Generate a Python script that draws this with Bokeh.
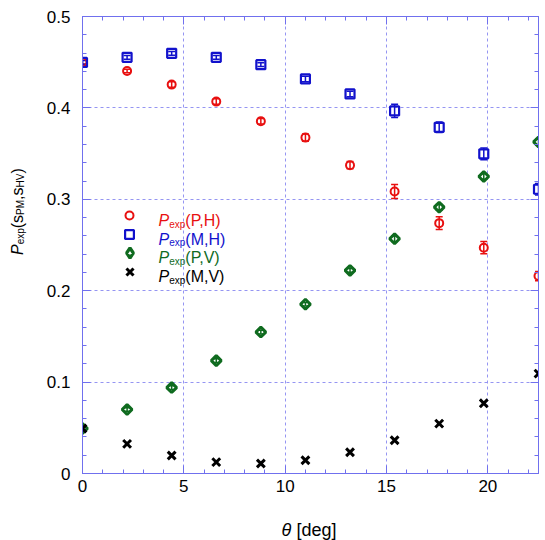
import math
from bokeh.plotting import figure
from bokeh.layouts import column, row
from bokeh.models import (ColumnDataSource, Whisker, TeeHead, LinearAxis, SingleIntervalTicker,
                          CustomJSTickFormatter, Label, Legend, LegendItem, Range1d)
from bokeh.core.properties import value
from bokeh.embed import file_html
from bokeh.resources import INLINE

# ---------------- data ----------------
theta = [0.0, 2.2, 4.4, 6.6, 8.8, 11.0, 13.2, 15.4, 17.6, 19.8, 22.5]
p_ph = [0.4500, 0.4404, 0.4255, 0.4069, 0.3854, 0.3675, 0.3373, 0.3085, 0.2739, 0.2470, 0.2160]
p_ph_err = [0.002, 0.002, 0.003, 0.003, 0.003, 0.004, 0.004, 0.0077, 0.0070, 0.0067, 0.0050]
p_mh = [0.4498, 0.4553, 0.4597, 0.4553, 0.4473, 0.4317, 0.4153, 0.3967, 0.3788, 0.3497, 0.3110]
p_mh_err = [0.002, 0.002, 0.002, 0.002, 0.002, 0.003, 0.003, 0.0073, 0.0057, 0.0064, 0.0064]
p_pv = [0.0492, 0.0700, 0.0940, 0.1235, 0.1547, 0.1852, 0.2222, 0.2568, 0.2914, 0.3249, 0.3628]
p_pv_err = [0.002, 0.002, 0.002, 0.002, 0.002, 0.002, 0.002, 0.003, 0.003, 0.003, 0.003]
p_mv = [0.0492, 0.0324, 0.0197, 0.0124, 0.0109, 0.0145, 0.0233, 0.0364, 0.0546, 0.0768, 0.1093]

legend_suffix = ["(P,H)", "(M,H)", "(P,V)", "(M,V)"]

RED = "#e81010"
BLUE = "#1212cc"
GREEN = "#0f6b1f"
BLACK = "#000000"
AX = "#7070ee"
GRID = "#9595f2"
FONT = "Liberation Sans"

# ---------------- layout (page pixels) ----------------
LW = 30                 # width of the y-label strip
MW, MH = 515, 500       # main figure
XH = 40                 # height of the x-label strip
ML, MR, MT, MB = 52, 7, 16, 27
FL = LW + ML            # page x of frame left
FB = MH - MB            # page y of frame bottom

p = figure(width=MW, height=MH, output_backend="svg", toolbar_location=None,
           x_range=Range1d(0, 22.5), y_range=Range1d(0, 0.5),
           min_border_left=ML, min_border_top=MT, min_border_right=MR,
           min_border_bottom=MB)
p.background_fill_color = "white"
p.border_fill_color = "white"
p.outline_line_color = AX
p.outline_line_width = 1

xa = p.xaxis[0]
ya = p.yaxis[0]
xt = SingleIntervalTicker(interval=5, num_minor_ticks=5)
yt = SingleIntervalTicker(interval=0.1, num_minor_ticks=5)
xa.ticker = xt
ya.ticker = yt
ya.formatter = CustomJSTickFormatter(code="return Math.abs(tick) < 1e-9 ? '0' : tick.toFixed(1);")

top = LinearAxis(ticker=xt, major_label_text_font_size="0px", major_label_standoff=0)
right = LinearAxis(ticker=yt, major_label_text_font_size="0px", major_label_standoff=0)
p.add_layout(top, "above")
p.add_layout(right, "right")

for ax in [xa, ya, top, right]:
    ax.axis_line_color = AX
    ax.major_tick_line_color = AX
    ax.minor_tick_line_color = AX
    ax.major_tick_in = 8
    ax.major_tick_out = 0
    ax.minor_tick_in = 4
    ax.minor_tick_out = 0
for ax in [xa, ya]:
    ax.major_label_text_font = FONT
    ax.major_label_text_font_size = "17px"
    ax.major_label_text_color = "black"
xa.major_label_standoff = 6
ya.major_label_standoff = 12

for g in [p.xgrid[0], p.ygrid[0]]:
    g.grid_line_color = GRID
    g.grid_line_dash = "3 3"
    g.grid_line_width = 1

# ---------------- series ----------------
def add_err(vals, errs, color):
    lo = [a - b for a, b in zip(vals, errs)]
    hi = [a + b for a, b in zip(vals, errs)]
    src = ColumnDataSource(dict(x=theta, lo=lo, hi=hi))
    p.add_layout(Whisker(base="x", lower="lo", upper="hi", source=src, dimension="height",
                         line_color=color, line_width=1.5,
                         upper_head=TeeHead(size=7, line_color=color, line_width=1.5),
                         lower_head=TeeHead(size=7, line_color=color, line_width=1.5)))

add_err(p_ph, p_ph_err, RED)
add_err(p_mh, p_mh_err, BLUE)
add_err(p_pv, p_pv_err, GREEN)

r_ph = p.scatter(theta, p_ph, marker="circle", size=8, fill_color=None, line_color=RED, line_width=2)
r_mh = p.scatter(theta, p_mh, marker="square", size=9, fill_color=None, line_color=BLUE, line_width=2.2)
r_pv = p.scatter(theta, p_pv, marker="square", size=7, angle=math.pi / 4, fill_color=None,
                 line_color=GREEN, line_width=3)
r_mv = p.scatter(theta, p_mv, marker="x", size=11, line_color=BLACK, line_width=3)
# legend-only sample for the green series (legend glyphs ignore the angle); hidden in the plot
r_pv_key = p.scatter(theta, p_pv, marker="diamond", size=10, fill_color=None,
                     line_color=GREEN, line_width=3.2, visible=False)

# ---------------- legend (markers) + texts ----------------
rows = [(r_ph, RED, 8), (r_mh, BLUE, 9), (r_pv_key, GREEN, 10), (r_mv, BLACK, 10)]
row_y = [215, 233.7, 252.3, 271]   # page y of row centres
mark_x = 129
for (r, col, sz), txt, yc in zip(rows, legend_suffix, row_y):
    g = sz / 0.4
    lg = Legend(items=[LegendItem(label=value(""), renderers=[r])],
                location=(mark_x - FL - g / 2, FB - yc - g / 2),
                glyph_width=int(round(g)), glyph_height=int(round(g)),
                padding=0, margin=0, spacing=0, label_standoff=0,
                label_width=0, label_height=0, label_text_font_size="1px",
                border_line_alpha=0, background_fill_alpha=0,
                inactive_fill_alpha=0)
    p.add_layout(lg)
    base = yc + 5.0
    p.add_layout(Label(x=158 - FL, y=FB - base, x_units="screen", y_units="screen",
                       text="P", text_font=FONT, text_font_style="italic",
                       text_font_size="16px", text_color=col, text_baseline="alphabetic"))
    p.add_layout(Label(x=168.7 - FL, y=FB - base - 3.5, x_units="screen", y_units="screen",
                       text="exp", text_font=FONT, text_font_size="10px",
                       text_color=col, text_baseline="alphabetic"))
    p.add_layout(Label(x=184.8 - FL, y=FB - base, x_units="screen", y_units="screen",
                       text=txt, text_font=FONT, text_font_size="16px",
                       text_color=col, text_baseline="alphabetic"))

# ---------------- y-label strip ----------------
def strip(w, h):
    f = figure(width=w, height=h, output_backend="svg", toolbar_location=None,
               x_range=Range1d(0, 1), y_range=Range1d(0, 1),
               x_axis_type=None, y_axis_type=None, min_border=0)
    f.outline_line_color = None
    f.grid.visible = False
    f.background_fill_color = "white"
    f.border_fill_color = "white"
    return f

fy = strip(LW, MH)
MAIN, SUB = 16, 10
pieces = [("P", MAIN, "italic", 0.667), ("exp", SUB, "normal", 1.612),
          ("(s", MAIN, "normal", 0.833), ("PM", SUB, "normal", 1.500),
          (",s", MAIN, "normal", 0.778), ("HV", SUB, "normal", 1.389),
          (")", MAIN, "normal", 0.333)]
pos = 281.5   # page y where the rotated text starts (bottom)
for t, fs, st, em in pieces:
    shift = 3.5 if fs == SUB else 0.0
    fy.add_layout(Label(x=16.5 + shift, y=MH - pos, x_units="screen", y_units="screen",
                        text=t, text_font=FONT, text_font_style=st, text_font_size=f"{fs}px",
                        text_color="black", text_baseline="alphabetic", angle=math.pi / 2))
    pos -= em * fs

# ---------------- x-label strip ----------------
fx = strip(LW + MW, XH)
xl_base = 529 - MH      # baseline in strip coordinates (from top)
fx.add_layout(Label(x=281, y=XH - xl_base, x_units="screen", y_units="screen",
                    text="\u03b8", text_font=FONT, text_font_style="italic",
                    text_font_size="18px", text_color="black", text_baseline="alphabetic"))
fx.add_layout(Label(x=296, y=XH - xl_base, x_units="screen", y_units="screen",
                    text="[deg]", text_font=FONT, text_font_size="18px",
                    text_color="black", text_baseline="alphabetic"))

layout = column(row(fy, p, spacing=0), fx, spacing=0)
open("out.html", "w").write(file_html(layout, INLINE))
